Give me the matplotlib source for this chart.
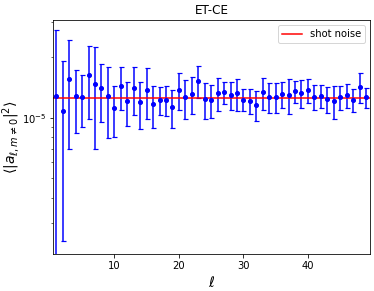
import numpy as np
import matplotlib
matplotlib.use("Agg")
import matplotlib.pyplot as plt

# multipoles and measured <|a_lm|^2> (units of 1e-5) with 1-sigma errors
ell = np.arange(1, 50)
cl = np.array([1.291, 1.079, 1.569, 1.281, 1.271, 1.630, 1.476, 1.410, 1.291, 1.121,
               1.442, 1.210, 1.415, 1.196, 1.383, 1.169, 1.229, 1.229, 1.129, 1.383,
               1.271, 1.321, 1.533, 1.243, 1.229, 1.326, 1.341, 1.306, 1.326, 1.233,
               1.219, 1.160, 1.341, 1.276, 1.271, 1.311, 1.306, 1.357, 1.331, 1.372,
               1.276, 1.291, 1.247, 1.214, 1.271, 1.301, 1.233, 1.431, 1.266]) * 1e-5
cl_err = np.array([1.440, 0.836, 0.865, 0.442, 0.369, 0.640, 0.778, 0.455, 0.495, 0.316,
                   0.343, 0.300, 0.380, 0.316, 0.390, 0.275, 0.200, 0.210, 0.243, 0.290,
                   0.281, 0.278, 0.280, 0.252, 0.235, 0.249, 0.165, 0.205, 0.240, 0.155,
                   0.175, 0.195, 0.243, 0.220, 0.215, 0.195, 0.260, 0.167, 0.205, 0.187,
                   0.180, 0.167, 0.186, 0.230, 0.171, 0.178, 0.165, 0.238, 0.150]) * 1e-5
shot_noise = 1.257e-5

fig = plt.figure(figsize=(374 / 72, 291 / 72), dpi=72)
ax = fig.add_axes([0.142, 0.127, 0.847, 0.804])

ax.errorbar(ell, cl, yerr=cl_err, fmt='o', color='blue', markersize=4,
            capsize=2.5, elinewidth=1.5, capthick=1.2)
ax.axhline(shot_noise, color='red', lw=1.5, label='shot noise')

ax.set_yscale('log')
ax.set_xlim(0.5, 49.6)
ax.set_ylim(2.1e-6, 3.07e-5)
ax.set_title('ET-CE', fontsize=12)
ax.set_xlabel(r'$\ell$', fontsize=14)
ax.set_ylabel(r'$\langle|a_{\ell,m\neq0}|^2\rangle$', fontsize=14, labelpad=0)
ax.legend(loc='upper right', fontsize=10)

fig.savefig('out.png', dpi=72)
